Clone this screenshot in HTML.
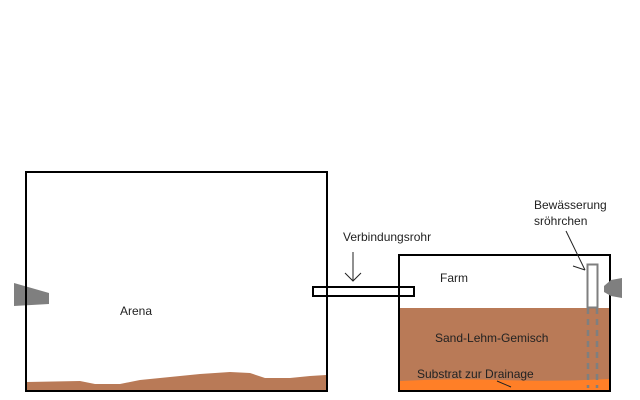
<!DOCTYPE html>
<html><head><meta charset="utf-8"><style>
html,body{margin:0;padding:0;background:#fff;}
svg{display:block;}
text{font-family:"Liberation Sans",sans-serif;font-size:12px;fill:#222;}
</style></head><body>
<svg width="640" height="400" viewBox="0 0 640 400" xmlns="http://www.w3.org/2000/svg">
<rect width="640" height="400" fill="#fff"/>
<polygon points="14,283 49,293 49,304 14,306" fill="#7f7f7f"/>
<path d="M27,382 L80,381 L95,384 L120,384 L140,380 L170,377 L200,374 L230,372 L250,373 L265,378 L290,378 L310,376 L326,375 L326,390 L27,390 Z" fill="#b97a57"/>
<rect x="26" y="172" width="301" height="219" fill="none" stroke="#000" stroke-width="2"/>
<text x="120" y="315">Arena</text>
<rect x="400" y="308" width="209" height="82" fill="#b97a57"/>
<path d="M400,381 Q450,378 500,380 T609,379 L609,390 L400,390 Z" fill="#ff7f27"/>
<rect x="587.5" y="264.5" width="10" height="43" fill="none" stroke="#7f7f7f" stroke-width="2"/>
<line x1="588" y1="308" x2="588" y2="388" stroke="#7f7f7f" stroke-width="2.5" stroke-dasharray="6,5"/>
<line x1="597" y1="308" x2="597" y2="388" stroke="#7f7f7f" stroke-width="2.5" stroke-dasharray="6,5"/>
<rect x="399" y="255" width="211" height="136" fill="none" stroke="#000" stroke-width="2"/>
<polygon points="604,286 611,280 622,278 622,298 611,296 604,292" fill="#7f7f7f"/>
<rect x="313" y="287" width="101" height="9" fill="none" stroke="#000" stroke-width="2"/>
<line x1="353" y1="252" x2="353" y2="281" stroke="#222" stroke-width="1"/>
<polyline points="345,273 353,281 361,273" fill="none" stroke="#222" stroke-width="1"/>
<line x1="566" y1="231" x2="585" y2="270" stroke="#222" stroke-width="1"/>
<line x1="573" y1="266" x2="585" y2="270" stroke="#222" stroke-width="1"/>
<line x1="497" y1="381" x2="511" y2="387" stroke="#222" stroke-width="1"/>
<text x="343" y="241">Verbindungsrohr</text>
<text x="440" y="282">Farm</text>
<text x="435" y="342">Sand-Lehm-Gemisch</text>
<text x="417" y="378">Substrat zur Drainage</text>
<text x="534" y="209">Bewässerung</text>
<text x="534" y="225">sröhrchen</text>
</svg>
</body></html>
